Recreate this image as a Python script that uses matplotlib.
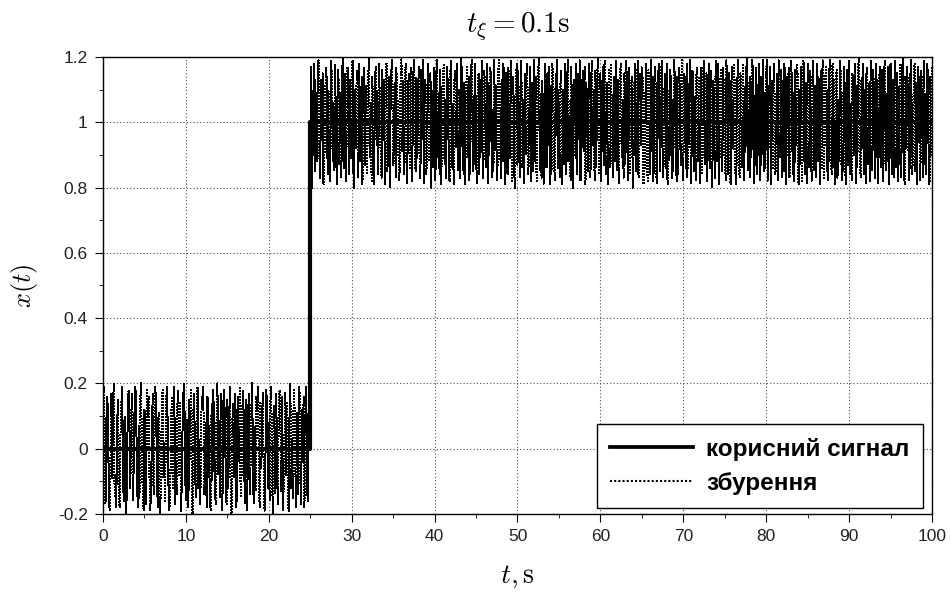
import numpy as np
import matplotlib.pyplot as plt

# корисний сигнал (ступінька)
sig_t = [0, 25, 100]
sig_x = [0, 1, 1]

# збурення, крок 0.1 с
noise = [
    .14, .19, -.06, -.17, .08, .16, .11, -.13, -.19, -.04, .17, -.09, .12, .20, -.15, -.08, -.18, .06, .15, -.11,
    -.18, .03, .13, .19, -.07, -.16, .10, -.14, -.20, -.09, .16, .18, .05, -.12, .09, .17, -.16, -.06, .11, .19,
    .13, -.10, -.18, .07, -.15, .15, .20, -.03, -.14, -.19, .12, .06, -.17, .18, .10, .16, -.08, -.19, -.12, .04,
    .17, -.14, .09, .19, .14, -.05, -.18, .11, -.13, -.20, -.07, .15, .18, -.09, .02, -.16, .13, .19, .08, -.11,
    -.19, -.15, .06, .16, -.12, .10, .19, -.17, -.04, -.14, .18, .12, -.08, .14, -.19, -.11, .07, .17, .20, -.06,
    -.16, .09, -.13, -.18, .15, .05, .18, -.10, -.20, .11, .17, -.05, -.15, .13, .19, -.12, .03, -.17, -.09, .16,
    .12, .19, -.14, -.07, .08, -.18, .16, .11, -.03, -.16, -.19, .14, -.10, .18, .07, -.13, -.17, .10, .20, -.08,
    .05, -.15, .17, -.11, -.19, .13, .18, .09, -.06, -.17, .15, -.12, .04, .19, -.16, -.20, .08, .14, -.09, .17,
    -.13, -.18, .11, .16, -.04, .19, -.15, -.10, .12, .18, .06, -.17, -.08, .15, -.19, .10, .17, -.14, -.05, .13,
    .20, -.11, -.17, .07, -.13, .16, .12, .19, -.09, -.18, .14, -.06, .10, .17, -.15, -.19, -.02, .18, .11, -.12,
    .08, -.16, .15, .19, -.10, -.20, .13, .06, -.14, .17, -.07, -.17, .12, .18, .09, -.13, .16, -.19, -.11, .05,
    .17, -.08, .14, -.16, -.19, .10, .20, -.12, .03, -.15, .18, .13, -.06, -.18, .11, -.14, .15, .19, -.09, -.17,
    .12, -.04, .16, -.18, .07, .19, -.11, -.16, .14, .09, -.13, .17, -.20, -.07, .11, .18, -.15, .04, -.12, .16,
    .19, -.10, -.17, .13, -.05, .15, -.19, -.14, .08, .17, .12, -.16, .10, -.09, -.18, .19, .14, -.12, .06, -.15,
    .18, -.03, -.19, .11, .16, -.13, .09, -.17, -.10, .20, .07, -.14, .15, -.18, .12, .17, -.06, -.16, .13, -.11,
    .04, .19, -.15, -.20, .10, -.08, .16, .13, -.17, .18, -.12, -.05, .14, -.19, .09, .17, -.13, .11, -.16, -.09,
    .15, .20, -.11, .06, -.18, .14, -.14, -.19, .12, .17, -.07, .10, -.16, .18, .05, -.12, -.17, .16, -.04, .13,
    -.19, .11, .18, -.15, -.08, .14, -.20, .09, .16, .19, -.13, -.06, .12, -.17, .17, -.10, .07, -.18, -.14, .15,
    .20, -.09, .13, -.16, .05, .18, -.12, -.19, .10, .15, -.14, .17, -.07, -.18, .12, .19, -.03, -.15, .14, -.11,
    .08, .17, -.17, -.13, .16, -.05, .19, -.19, .11, .13, -.16, -.09, .18, -.12, .06, .15, -.20, .10, -.14, .17,
    -.07, -.18, .14, .19, -.11, .09, -.16, .16, -.19, -.04, .12, .18, -.13, .07, -.17, .17, .11, -.10, -.18, .15,
    .19, -.14, .05, -.19, .13, .16, -.08, .18, -.15, -.12, .10, -.17, .20, .14, -.06, -.16, .12, -.19, .09, .17,
    -.11, .14, -.18, -.03, .16, .19, -.15, .08, -.13, .18, -.09, -.19, .11, .15, -.16, .13, -.05, .19, -.17, -.12,
    .16, .07, -.14, .18, -.19, .12, -.10, .17, .14, -.17, .04, -.15, .19, -.08, .11, -.18, -.13, .16, .20, -.06,
    -.17, .13, -.12, .18, .09, -.19, .15, -.07, -.16, .17, .12, -.11, .19, -.18, .06, .14, -.15, -.20, .10, .18,
    -.13, .16, -.04, -.17, .19, .11, -.14, .07, -.19, .15, -.10, .18, .13, -.16, -.08, .17, -.18, .12, .05, -.15,
    .19, -.12, .14, -.18, -.06, .16, .20, -.15, .09, -.17, .13, -.11, -.19, .18, .08, -.14, .15, -.07, .17, -.19,
    .11, -.16, .18, .13, -.10, -.18, .15, -.04, .19, -.14, .06, -.17, .16, .12, -.19, .10, -.13, .18, -.08, -.16,
    .14, .19, -.12, .07, -.18, .17, -.15, -.20, .13, .09, -.11, .18, -.16, .15, -.05, .19, -.18, -.13, .11, .16,
    -.09, .17, -.19, .12, .05, -.15, .18, -.12, -.17, .14, .19, -.07, .10, -.18, .16, -.14, .13, .20, -.16, -.10,
    .15, -.18, .08, .17, -.13, .19, -.09, -.16, .12, -.19, .16, .11, -.14, .18, -.06, -.17, .14, .09, -.12, .19,
    -.15, .13, -.19, -.08, .16, .18, -.11, .07, -.17, .15, -.13, .19, .12, -.18, -.04, .17, -.16, .10, .14, -.20,
    .12, -.10, .18, -.15, .06, .19, -.17, -.12, .15, -.07, .17, .13, -.19, .09, -.14, .18, -.11, -.18, .16, .05,
    -.16, .19, -.09, .14, -.18, .11, .17, -.13, -.19, .16, -.05, .18, -.15, .12, .19, -.10, -.17, .08, .15, -.14,
    .18, -.19, .10, -.12, .16, .13, -.17, .07, -.15, .19, .11, -.08, -.18, .14, -.16, .17, .05, -.13, .20, -.11,
    -.18, .15, .09, -.14, .18, -.17, .12, -.06, .19, -.19, -.10, .16, .13, -.15, .08, -.18, .17, .11, -.12, .14,
    -.19, .06, .17, -.16, .12, .19, -.13, -.08, .15, -.18, .10, .18, -.14, .16, -.11, -.20, .13, .07, -.17, .19,
    .14, -.12, .18, -.19, -.07, .16, .11, -.15, .17, -.10, .13, -.18, .19, .08, -.16, .15, -.13, -.19, .12, .17,
    -.08, .18, -.16, .13, -.19, .10, .19, -.12, -.17, .15, .06, -.14, .18, -.18, .11, -.09, .16, .20, -.15, .12,
    -.17, .14, -.11, .19, .16, -.19, .08, -.13, .17, -.16, -.05, .18, .12, -.18, .14, -.10, .19, -.15, .09, -.14,
    .16, .19, -.18, .11, -.08, .17, -.19, .13, -.14, .18, .10, -.16, -.12, .15, -.18, .19, .07, -.11, .16, -.17,
    .13, -.15, .18, .05, -.19, .14, -.10, .17, -.17, -.13, .19, .12, -.16, .09, -.18, .16, -.07, .18, .14, -.19,
    .10, -.13, .17, -.18, .15, .19, -.11, -.16, .12, -.19, .18, .06, -.14, .16, -.09, -.18, .19, .13, -.15, .11,
    -.17, .18, -.12, .14, .08, -.19, .16, -.14, .19, -.06, -.17, .12, .17, -.15, .10, -.18, .15, .19, -.10, -.16,
    .18, -.14, .13, -.19, .11, .16, -.17, .07, -.12, .19, .14, -.18, .09, -.15, .17, -.11, -.19, .16, .12, -.13,
    .19, -.16, .06, -.18, .15, .13, -.10, .18, -.19, .11, -.14, .17, .20, -.12, -.17, .14, -.08, .18, -.16, .10,
    -.19, .15, .17, -.13, .12, -.18, .19, -.09, -.15, .16, .08, -.17, .18, -.11, .13, -.19, .10, .17, -.14, -.06,
    .16, -.18, .12, .19, -.15, .09, -.12, .17, -.19, .14, .18, -.10, -.16, .13, -.17, .19, .07, -.14, .15, -.18,
    .11, -.13, .18, -.17, .16, .20, -.12, -.19, .14, -.08, .17, .10, -.18, .15, -.14, .19, -.16, -.11, .13, .18,
    -.15, .12, -.19, .17, -.06, .14, -.18, .16, .11, -.17, .19, -.13, .09, -.16, .18, .15, -.12, -.19, .14, -.10,
    .17,
]
noise_dt = 0.1

xticks = [0, 10, 20, 30, 40, 50, 60, 70, 80, 90, 100]
yticks = [-0.2, 0, 0.2, 0.4, 0.6, 0.8, 1, 1.2]
ylabels = ["-0.2", "0", "0.2", "0.4", "0.6", "0.8", "1", "1.2"]

plt.rcParams['mathtext.fontset'] = 'cm'
plt.rcParams['font.family'] = ['Liberation Sans', 'DejaVu Sans']

tn = np.arange(len(noise)) * noise_dt
step = np.interp(tn, [0, 24.999, 25, 100], [0, 0, 1, 1])
xn = step + np.array(noise)

fig = plt.figure(figsize=(9.51, 5.92), dpi=100)
ax = fig.add_axes([0.1083, 0.1318, 0.8717, 0.7719])

ax.plot(tn, xn, color="black", linestyle=(0, (1, 1)), linewidth=1.0,
        antialiased=False, label="збурення", zorder=3)
ax.plot(sig_t, sig_x, color="black", linewidth=3.0, drawstyle="steps-post",
        label="корисний сигнал", zorder=4)

ax.set_xlim(0, 100)
ax.set_ylim(-0.2, 1.2)
ax.set_xticks(xticks)
ax.set_yticks(yticks)
ax.set_yticklabels(ylabels)
ax.set_xticks(np.arange(5, 100, 10), minor=True)
ax.set_yticks(np.arange(-0.1, 1.2, 0.2), minor=True)
ax.tick_params(which="both", direction="out", top=False, right=False, labelsize=12.5,
               color="black", labelcolor="#222222")
ax.tick_params(which="major", length=6, pad=5)
ax.tick_params(which="minor", length=3)
ax.grid(True, which="major", color="0.3", linestyle=(0, (1, 2)), linewidth=0.8)
for s in ax.spines.values():
    s.set_linewidth(1.0)

ax.set_title(r"$t_{\xi} = 0.1\mathrm{s}$", fontsize=21, pad=18)
ax.set_xlabel(r"$t, \mathrm{s}$", fontsize=20, labelpad=14)
ax.set_ylabel(r"$x(t)$", fontsize=19, labelpad=13)

h, l = ax.get_legend_handles_labels()
leg = ax.legend(h[::-1], l[::-1], loc="lower right", bbox_to_anchor=(0.989, 0.013),
                borderaxespad=0, fancybox=False, framealpha=1, edgecolor="black",
                prop={"size": 17.5, "weight": "bold"}, handlelength=3.4, handletextpad=0.55,
                labelspacing=0.45, borderpad=0.55)
leg.get_frame().set_linewidth(1.0)
leg.get_lines()[0].set_linewidth(2.7)
leg.get_lines()[1].set_linewidth(1.5)

fig.savefig("out.png", dpi=100)
